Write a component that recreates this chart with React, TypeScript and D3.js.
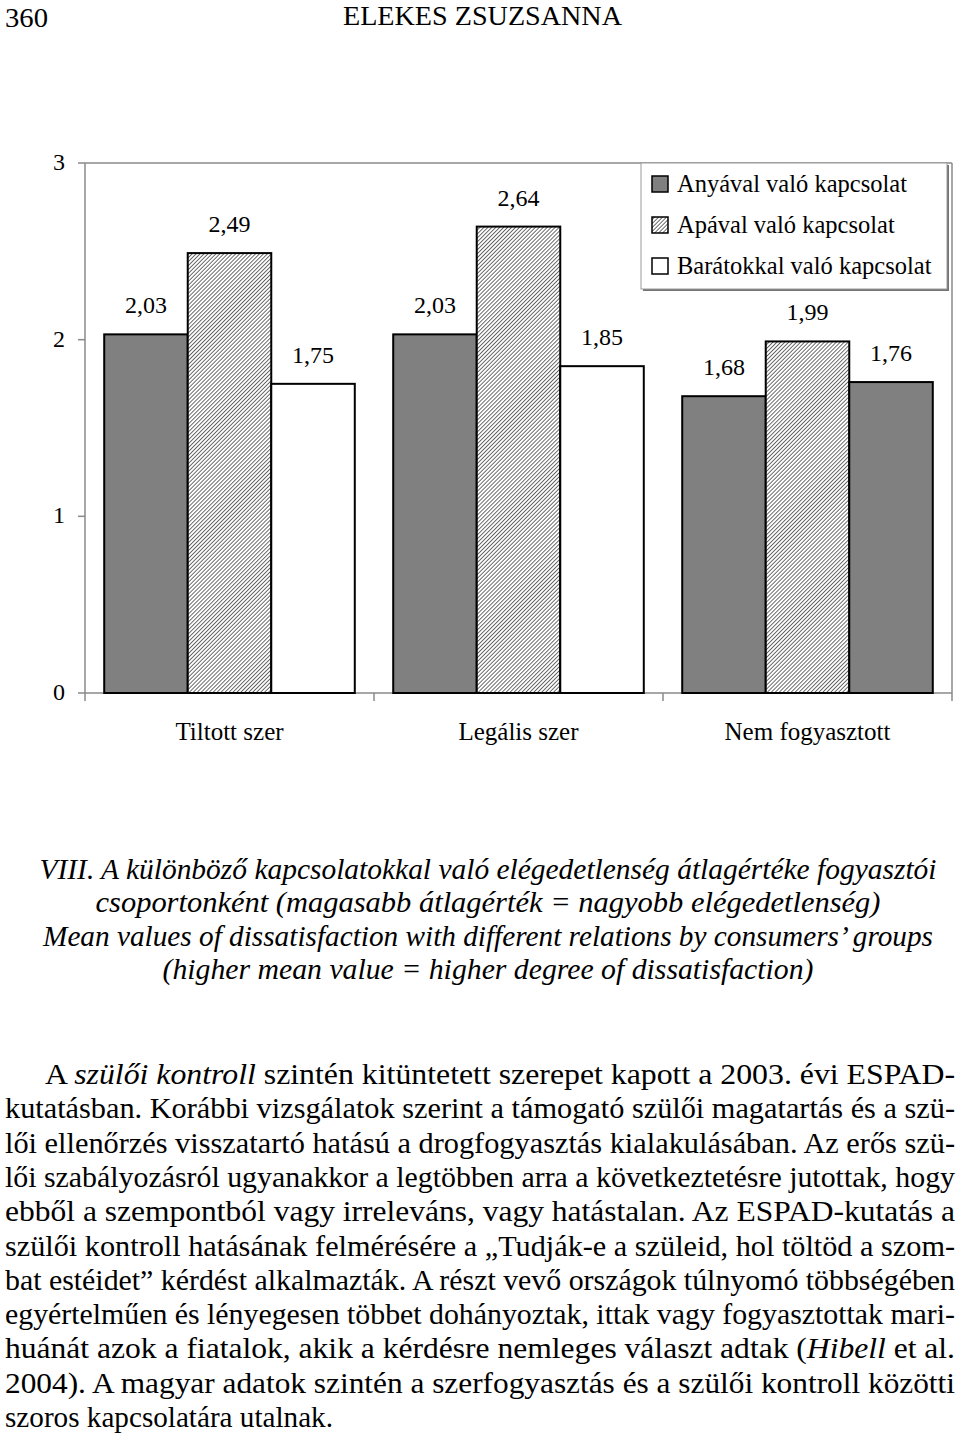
import React from "react";
import * as d3 from "d3";

const categories = ["Tiltott szer", "Legális szer", "Nem fogyasztott"];
const seriesNames = ["Anyával való kapcsolat", "Apával való kapcsolat", "Barátokkal való kapcsolat"];
const anyaValues = [2.03, 2.03, 1.68];
const apaValues = [2.49, 2.64, 1.99];
const baratValues = [1.75, 1.85, 1.76];
const yTicks = [0, 1, 2, 3];

const captionLines = [
  "VIII. A különböző kapcsolatokkal való elégedetlenség átlagértéke fogyasztói",
  "csoportonként (magasabb átlagérték = nagyobb elégedetlenség)",
  "Mean values of dissatisfaction with different relations by consumers’ groups",
  "(higher mean value = higher degree of dissatisfaction)",
];

// paragraph lines as segments [text, italic]
const paragraphLines: [string, boolean][][] = [
  [["A ", false], ["szülői kontroll", true], [" szintén kitüntetett szerepet kapott a 2003. évi ESPAD-", false]],
  [["kutatásban. Korábbi vizsgálatok szerint a támogató szülői magatartás és a szü-", false]],
  [["lői ellenőrzés visszatartó hatású a drogfogyasztás kialakulásában. Az erős szü-", false]],
  [["lői szabályozásról ugyanakkor a legtöbben arra a következtetésre jutottak, hogy", false]],
  [["ebből a szempontból vagy irreleváns, vagy hatástalan. Az ESPAD-kutatás a", false]],
  [["szülői kontroll hatásának felmérésére a „Tudják-e a szüleid, hol töltöd a szom-", false]],
  [["bat estéidet” kérdést alkalmazták. A részt vevő országok túlnyomó többségében", false]],
  [["egyértelműen és lényegesen többet dohányoztak, ittak vagy fogyasztottak mari-", false]],
  [["huánát azok a fiatalok, akik a kérdésre nemleges választ adtak (", false], ["Hibell", true], [" et al.", false]],
  [["2004). A magyar adatok szintén a szerfogyasztás és a szülői kontroll közötti", false]],
  [["szoros kapcsolatára utalnak.", false]],
];

const W = 960;
const H = 1435;
const serif = "'Liberation Serif', 'Times New Roman', serif";

export default function App() {
  const plotL = 85, plotR = 952, plotT = 163, plotB = 693;
  const y = d3.scaleLinear().domain([0, 3]).range([plotB, plotT]);
  const x0 = d3.scaleBand<string>().domain(categories).range([plotL, plotR]).paddingInner(0).paddingOuter(0);
  const x1 = d3.scaleBand<string>().domain(seriesNames).range([0, x0.bandwidth()]).paddingInner(0).paddingOuter(0.23);
  const seriesValues = [anyaValues, apaValues, baratValues];
  const fills = ["#808080", "url(#hatch)", "#ffffff"];
  const fillFor = (ci: number, si: number) => (ci === 2 && si === 2 ? "#808080" : fills[si]);

  const capX = 488;
  const capBase = [879, 912, 946, 979];
  const capLen = [897, 785, 890, 651];

  const parBase0 = 1084;
  const parStep = 34.3;

  return (
    <svg width={W} height={H} style={{ position: "absolute", left: 0, top: 0, background: "#fff", fontFamily: serif }}>
      <defs>
        <pattern id="hatch" patternUnits="userSpaceOnUse" width="2.8" height="2.8" patternTransform="rotate(45)">
          <rect width="2.8" height="2.8" fill="#ffffff" />
          <line x1="0" y1="0" x2="0" y2="2.8" stroke="#3a3a3a" strokeWidth="1.5" />
        </pattern>
      </defs>
      <rect width={W} height={H} fill="#fff" />

      {/* Header */}
      <text x={5} y={27} fontSize={28} textLength={43} lengthAdjust="spacingAndGlyphs">360</text>
      <text x={343} y={25} fontSize={27} textLength={279} lengthAdjust="spacingAndGlyphs">ELEKES ZSUZSANNA</text>

      {/* Plot frame */}
      <line x1={plotL} x2={plotR} y1={plotT} y2={plotT} stroke="#8a8a8a" strokeWidth={1.5} />
      <line x1={plotR} x2={plotR} y1={plotT} y2={plotB} stroke="#8a8a8a" strokeWidth={1.5} />
      <line x1={plotL} x2={plotL} y1={plotT} y2={plotB} stroke="#8a8a8a" strokeWidth={1.5} />
      <line x1={plotL} x2={plotR} y1={plotB} y2={plotB} stroke="#8a8a8a" strokeWidth={1.5} />

      {/* Y ticks */}
      {yTicks.map((t) => (
        <g key={t}>
          <line x1={plotL - 7} x2={plotL} y1={y(t)} y2={y(t)} stroke="#8a8a8a" strokeWidth={1.5} />
          <text x={65} y={y(t) + 7} fontSize={24} textAnchor="end">{t}</text>
        </g>
      ))}

      {/* X ticks */}
      {[...categories.map((c) => x0(c)!), plotR].map((xv, i) => (
        <line key={i} x1={xv} x2={xv} y1={plotB} y2={plotB + 8} stroke="#8a8a8a" strokeWidth={1.5} />
      ))}
      {categories.map((c) => (
        <text key={c} x={x0(c)! + x0.bandwidth() / 2} y={740} fontSize={25} textAnchor="middle">{c}</text>
      ))}

      {/* Bars */}
      {categories.map((c, ci) => (
        <g key={c} transform={`translate(${x0(c)},0)`}>
          {seriesNames.map((s, si) => {
            const v = seriesValues[si][ci];
            const bx = x1(s)!;
            const bw = x1.bandwidth();
            return (
              <g key={s}>
                <rect x={bx} y={y(v)} width={bw} height={y(0) - y(v)} fill={fillFor(ci, si)} stroke="#000" strokeWidth={2} />
                <text x={bx + bw / 2} y={y(v) - 21} fontSize={24} textAnchor="middle">
                  {v.toFixed(2).replace(".", ",")}
                </text>
              </g>
            );
          })}
        </g>
      ))}

      {/* Legend */}
      <rect x={643} y={165} width={306} height={126} fill="#000" opacity={0.55} />
      <rect x={641} y={163} width={306} height={126} fill="#fff" stroke="#9a9a9a" strokeWidth={1} />
      {seriesNames.map((s, i) => (
        <g key={s}>
          <rect x={652} y={176 + i * 41} width={16} height={16} fill={fills[i]} stroke="#000" strokeWidth={1.5} />
          <text x={677} y={192 + i * 41} fontSize={24.5}>{s}</text>
        </g>
      ))}

      {/* Caption */}
      {captionLines.map((l, i) => (
        <text key={i} x={capX} y={capBase[i]} fontSize={29} fontStyle="italic" textAnchor="middle"
          textLength={capLen[i]} lengthAdjust="spacingAndGlyphs">{l}</text>
      ))}

      {/* Paragraph */}
      {paragraphLines.map((segs, i) => {
        const isFirst = i === 0;
        const isLast = i === paragraphLines.length - 1;
        const x = isFirst ? 45 : 5;
        const len = isLast ? 328 : 955 - x;
        return (
          <text key={i} x={x} y={parBase0 + i * parStep} fontSize={28.5} textLength={len} lengthAdjust="spacingAndGlyphs">
            {segs.map(([t, it], j) => (
              <tspan key={j} fontStyle={it ? "italic" : "normal"}>{t}</tspan>
            ))}
          </text>
        );
      })}
    </svg>
  );
}
